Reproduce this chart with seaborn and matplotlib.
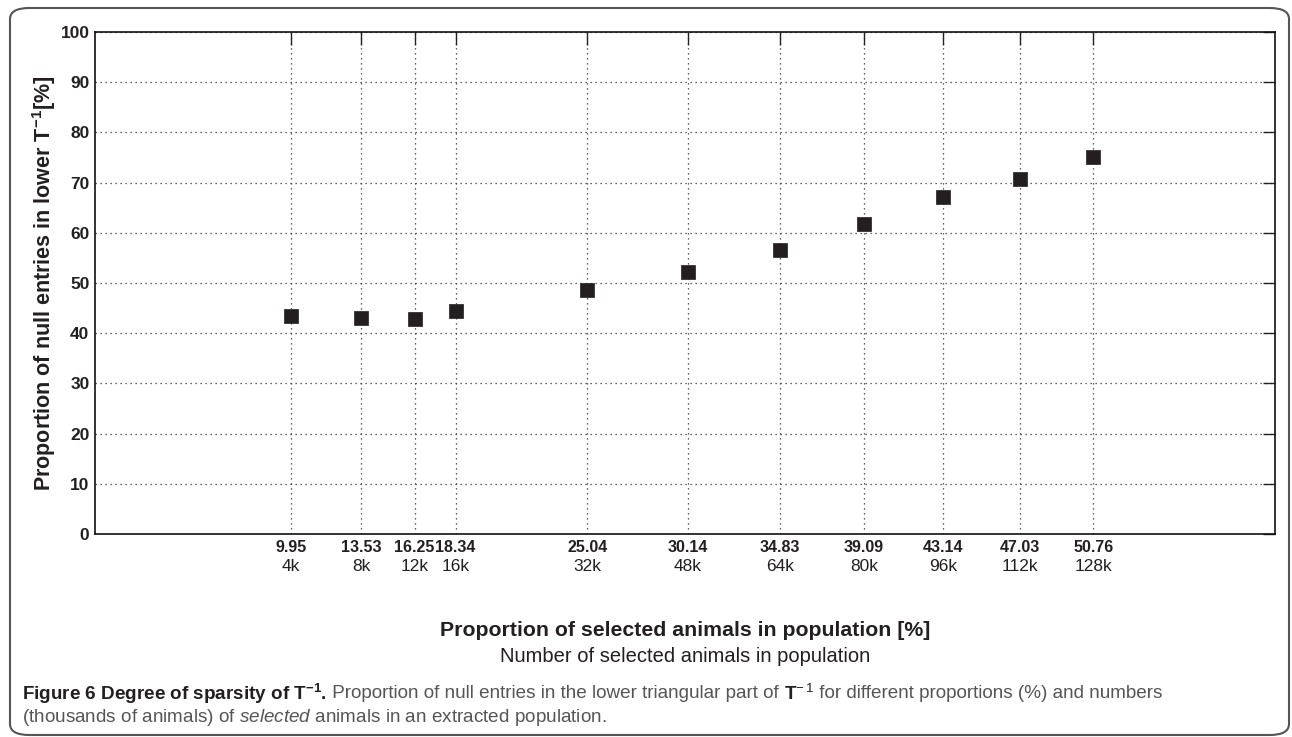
import pandas as pd
import matplotlib.pyplot as plt
import seaborn as sns
from matplotlib.patches import FancyBboxPatch
from matplotlib.transforms import blended_transform_factory

# ==========================================
# DATA
# ==========================================

proportion = [9.95, 13.53, 16.25, 18.34, 25.04, 30.14, 34.83, 39.09, 43.14, 47.03, 50.76]
proportion_labels = ["9.95", "13.53", "16.25", "18.34", "25.04", "30.14",
                     "34.83", "39.09", "43.14", "47.03", "50.76"]
count_labels = ["4k", "8k", "12k", "16k", "32k", "48k", "64k", "80k", "96k", "112k", "128k"]
null_entries = [43.4, 43.0, 42.8, 44.4, 48.7, 52.2, 56.6, 61.8, 67.2, 70.7, 75.1]
y_ticks = [0, 10, 20, 30, 40, 50, 60, 70, 80, 90, 100]

df = pd.DataFrame({"proportion": proportion, "null": null_entries})

# ==========================================
# STYLE
# ==========================================

sns.set_style("white")
plt.rcParams["font.family"] = ["Liberation Sans", "DejaVu Sans"]
plt.rcParams["mathtext.fontset"] = "custom"
plt.rcParams["mathtext.rm"] = "Liberation Sans"
plt.rcParams["mathtext.bf"] = "Liberation Sans:bold"
plt.rcParams["mathtext.it"] = "Liberation Sans:italic"

W, H = 1292, 737
fig = plt.figure(figsize=(W / 100, H / 100), dpi=100)
ax = fig.add_axes([95 / W, 1 - 534 / H, (1275 - 95) / W, (534 - 32) / H])

# ==========================================
# PLOT
# ==========================================

sns.scatterplot(
    data=df,
    x="proportion",
    y="null",
    marker="s",
    s=90,
    color="#231f20",
    edgecolor="#231f20",
    linewidth=0.5,
    zorder=3,
    ax=ax
)

ax.set_xlim(0, 60)
ax.set_ylim(0, 100)
ax.set_xticks(proportion)
ax.set_xticklabels(proportion_labels, fontsize=11.5, fontweight="bold", color="#231f20")
ax.set_yticks(y_ticks)
ax.set_yticklabels([str(v) for v in y_ticks], fontsize=12.5, fontweight="bold",
                   color="#231f20")

ax.grid(True, linestyle=(0, (1, 3)), color="#333333", linewidth=0.9)
ax.tick_params(direction="in", top=True, right=True, length=9, width=1,
               color="#222222", pad=4)
for sp in ax.spines.values():
    sp.set_color("#111111")
    sp.set_linewidth(1.2)

ax.set_xlabel("")
ax.set_ylabel(r"Proportion of null entries in lower T$^{\mathbf{-1}}$[%]",
              fontsize=15.5, fontweight="bold", color="#231f20")
ax.yaxis.set_label_coords(-0.031, 0.5)

# second row of x tick labels (number of animals)
trans = blended_transform_factory(ax.transData, ax.transAxes)
for x, lab in zip(proportion, count_labels):
    ax.text(x, -0.05, lab, transform=trans, ha="center", va="top",
            fontsize=12.5, color="#231f20")

fig.text(685 / W, 1 - 630 / H, "Proportion of selected animals in population [%]",
         ha="center", va="center", fontsize=15.3, fontweight="bold", color="#231f20")
fig.text(685 / W, 1 - 657 / H, "Number of selected animals in population",
         ha="center", va="center", fontsize=14.5, color="#231f20")

# ==========================================
# CAPTION
# ==========================================

renderer = fig.canvas.get_renderer()
cap_size = 13.6


def text_runs(x_px, y_px, parts):
    x = x_px
    for txt, kw in parts:
        t = fig.text(x / W, 1 - y_px / H, txt, ha="left", va="center",
                     fontsize=cap_size, **kw)
        bb = t.get_window_extent(renderer)
        x = bb.x1


grey = "#555555"
text_runs(22, 694, [
    (r"Figure 6 Degree of sparsity of T$^{\mathbf{-1}}$.", dict(fontweight="bold", color="#231f20")),
    (" Proportion of null entries in the lower triangular part of ", dict(color=grey)),
    (r"$\mathbf{T}^{-\,1}$", dict(color="#231f20")),
    (" for different proportions (%) and numbers", dict(color=grey)),
])
fig.text(22 / W, 1 - 717 / H,
         r"(thousands of animals) of $\it{selected}$ animals in an extracted population.",
         ha="left", va="center", fontsize=cap_size, color=grey)

# rounded frame round the whole figure
frame = FancyBboxPatch((10 / W, 2 / H), (1289 - 10) / W, (729 - 2) / H,
                       boxstyle="round,pad=0,rounding_size=0.015",
                       transform=fig.transFigure, fill=False,
                       edgecolor="#555555", linewidth=1.5)
fig.patches.append(frame)

fig.savefig("out.png", dpi=100)
plt.close()
